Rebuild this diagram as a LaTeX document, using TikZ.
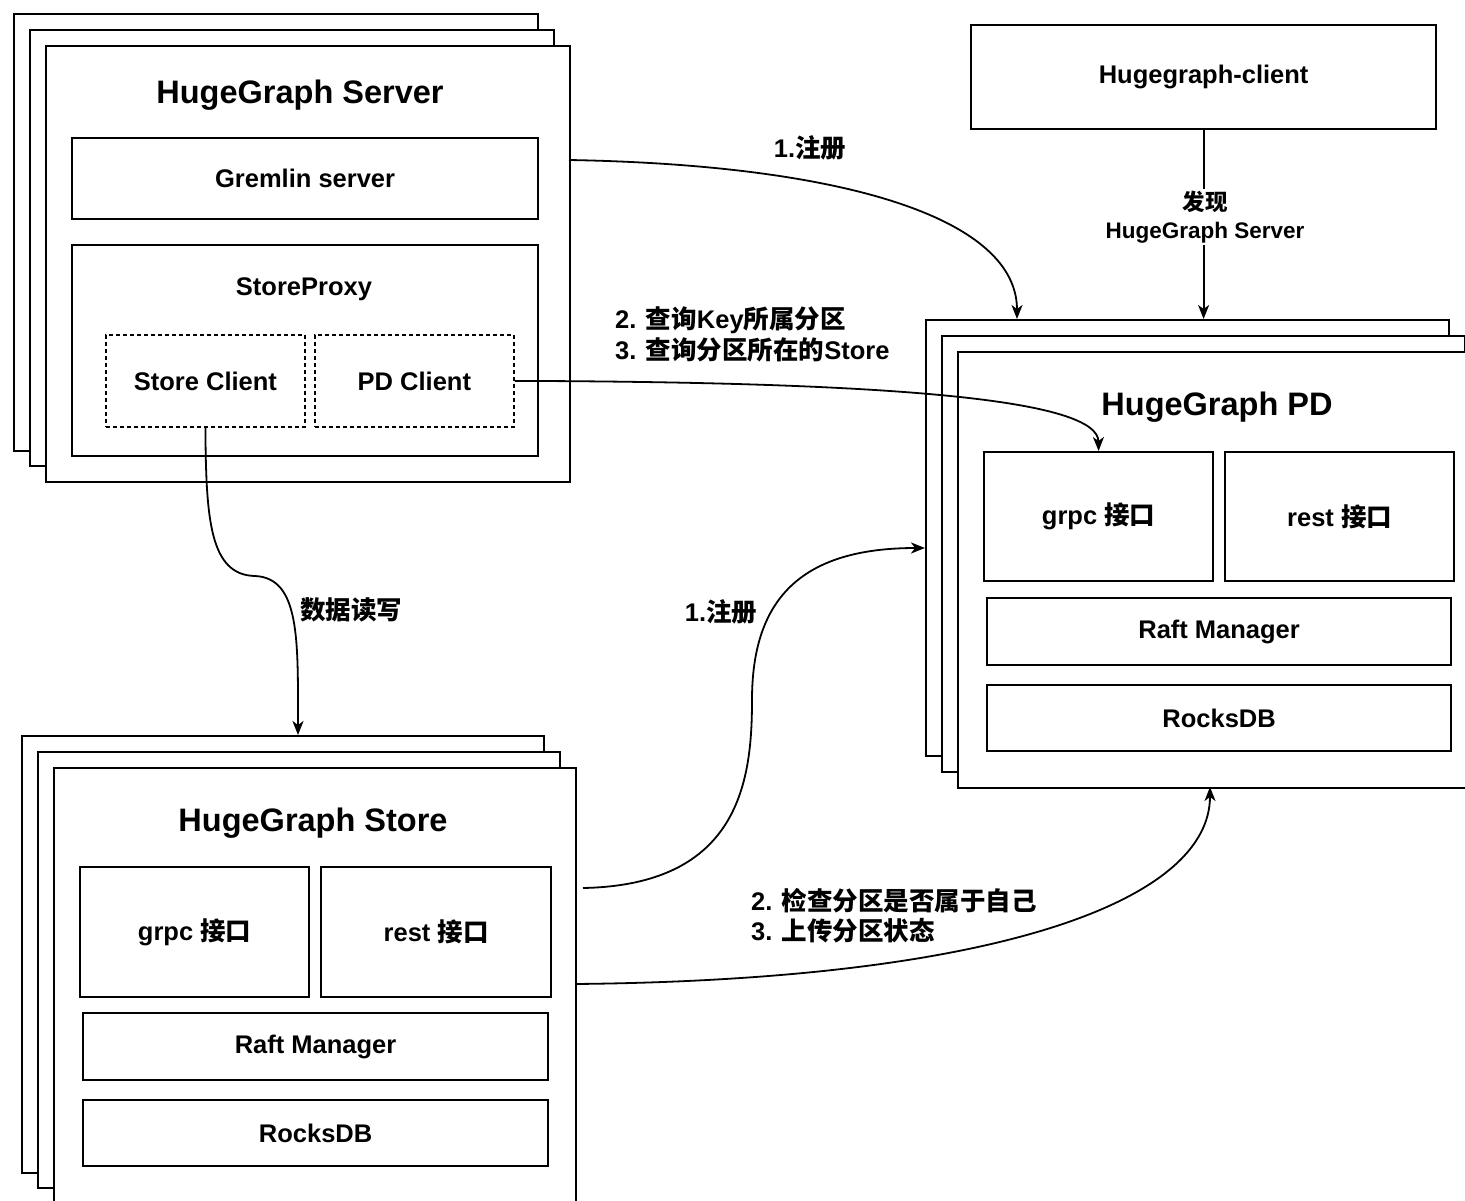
\documentclass[tikz,border=0pt]{standalone}
\usepackage{fontspec}
\setmainfont{Liberation Sans}
\newfontfamily\cjk{Noto Sans CJK SC}
\usetikzlibrary{arrows.meta,calc}
\newcommand{\zh}[1]{{\cjk #1}}
\newcommand{\compfont}{\fontsize{25.5}{30}\selectfont\bfseries}
\tikzset{
  frame/.style={draw, line width=2.2pt, fill=white, anchor=north west, inner sep=0pt},
  comp/.style={draw, line width=2.2pt, fill=white, anchor=north west, inner sep=0pt},
  dashbox/.style={draw, line width=1.8pt, dash pattern=on 4pt off 3pt, anchor=north west,
    inner sep=0pt},
  ctext/.style={font=\compfont, inner sep=0pt},
  title/.style={font=\fontsize{32.5}{38}\selectfont\bfseries, inner sep=0pt},
  lbl/.style={font=\fontsize{25.5}{30}\selectfont\bfseries, inner sep=1pt},
  conn/.style={line width=1.8pt, -{Stealth[length=14pt,width=11pt,inset=4pt]}},
}
\begin{document}
\begin{tikzpicture}[x=1pt,y=-1pt]
\useasboundingbox (0,0) rectangle (1465,1201);
\fill[white] (0,0) rectangle (1465,1201);

% ---------- HugeGraph Server ----------
\node[frame, minimum width=524pt, minimum height=437pt] (sv1) at (13,13) {};
\node[frame, minimum width=524pt, minimum height=436pt] (sv2) at (29,29) {};
\node[frame, minimum width=524pt, minimum height=436pt] (sv3) at (45,45) {};
\node[title] (svtitle) at (300,95) {HugeGraph Server};
\node[comp, minimum width=466pt, minimum height=81pt] (gremlin) at (71,137) {};
\node[ctext] (gremlintxt) at (gremlin.center) {Gremlin server};
\node[comp, minimum width=466pt, minimum height=211pt] (proxy) at (71,244) {};
\node[ctext] (proxytxt) at (304,289) {StoreProxy};
\node[dashbox, minimum width=199pt, minimum height=92pt] (sc) at (105,334) {};
\node[ctext] (sctxt) at (sc.center) {Store Client};
\node[dashbox, minimum width=199pt, minimum height=92pt] (pdc) at (314,334) {};
\node[ctext] (pdctxt) at (pdc.center) {PD Client};

% ---------- Hugegraph-client ----------
\node[comp, minimum width=465pt, minimum height=104pt] (client) at (970,24) {};
\node[ctext] (clienttxt) at (client.center) {Hugegraph-client};

% ---------- HugeGraph PD ----------
\node[frame, minimum width=523pt, minimum height=436pt] (pd1) at (925,319) {};
\node[frame, minimum width=523pt, minimum height=436pt] (pd2) at (941,335) {};
\node[frame, minimum width=540pt, minimum height=436pt] (pd3) at (957,351) {};
\node[title] (pdtitle) at (1217,407) {HugeGraph PD};
\node[comp, minimum width=229pt, minimum height=129pt] (pdgrpc) at (983,451) {};
\node[ctext] (pdgrpctxt) at (pdgrpc.center) {grpc \zh{接口}};
\node[comp, minimum width=229pt, minimum height=129pt] (pdrest) at (1224,451) {};
\node[ctext] (pdresttxt) at (pdrest.center) {rest \zh{接口}};
\node[comp, minimum width=464pt, minimum height=67pt] (pdraft) at (986,597) {};
\node[ctext] (pdrafttxt) at (pdraft.center) {Raft Manager};
\node[comp, minimum width=464pt, minimum height=66pt] (pdrocks) at (986,684) {};
\node[ctext] (pdrockstxt) at (pdrocks.center) {RocksDB};

% ---------- HugeGraph Store ----------
\node[frame, minimum width=522pt, minimum height=437pt] (st1) at (21,735) {};
\node[frame, minimum width=522pt, minimum height=436pt] (st2) at (37,751) {};
\node[frame, minimum width=522pt, minimum height=460pt] (st3) at (53,767) {};
\node[title] (sttitle) at (313,823) {HugeGraph Store};
\node[comp, minimum width=229pt, minimum height=130pt] (stgrpc) at (79,866) {};
\node[ctext] (stgrpctxt) at (stgrpc.center) {grpc \zh{接口}};
\node[comp, minimum width=230pt, minimum height=130pt] (strest) at (320,866) {};
\node[ctext] (stresttxt) at (strest.center) {rest \zh{接口}};
\node[comp, minimum width=465pt, minimum height=67pt] (straft) at (82,1012) {};
\node[ctext] (strafttxt) at (straft.center) {Raft Manager};
\node[comp, minimum width=465pt, minimum height=66pt] (strocks) at (82,1099) {};
\node[ctext] (strockstxt) at (strocks.center) {RocksDB};

% ---------- connector end points ----------
\coordinate (a1s) at (569,160);
\coordinate (a1e) at (1017,319);
\coordinate (a4e) at (298,735);
\coordinate (a5s) at (583,888);
\coordinate (a5e) at (925,548);
\coordinate (a6s) at (575,984);
\coordinate (a6e) at (1210,787);

% ---------- connectors ----------
\draw[conn] (a1s) .. controls (850,165) and (1017,220) .. (a1e);
\draw[conn] (pdc.east) .. controls (900,382) and (1098,400) .. (pdgrpc.north);
\draw[conn] (client.south) -- (pd1.north -| client.south);
\draw[conn] (sc.south) .. controls (206,520) and (210,575) .. (255,576)
            .. controls (300,578) and (298,640) .. (a4e);
\draw[conn] (a5s) .. controls (740,885) and (752,780) .. (752,700)
            .. controls (752,600) and (800,548) .. (a5e);
\draw[conn] (a6s) .. controls (1000,980) and (1210,900) .. (a6e);

% ---------- labels ----------
\node[lbl] (l1) at (810,148) {1.\zh{注册}};
\node[lbl, anchor=west] (l2a) at (614,320) {2. \zh{查询}Key\zh{所属分区}};
\node[lbl, anchor=west] (l2b) at (614,350) {3. \zh{查询分区所在的}Store};
\node[fill=white, inner sep=2pt, align=center, font=\fontsize{22.5}{28}\selectfont\bfseries] (l3)
  at (1205,217) {\zh{发现}\\HugeGraph Server};
\node[lbl] (l4) at (351,610) {\zh{数据读写}};
\node[lbl] (l5) at (721,612) {1.\zh{注册}};
\node[lbl, anchor=west] (l6a) at (750,901) {2. \zh{检查分区是否属于自己}};
\node[lbl, anchor=west] (l6b) at (750,931) {3. \zh{上传分区状态}};
\end{tikzpicture}
\end{document}
